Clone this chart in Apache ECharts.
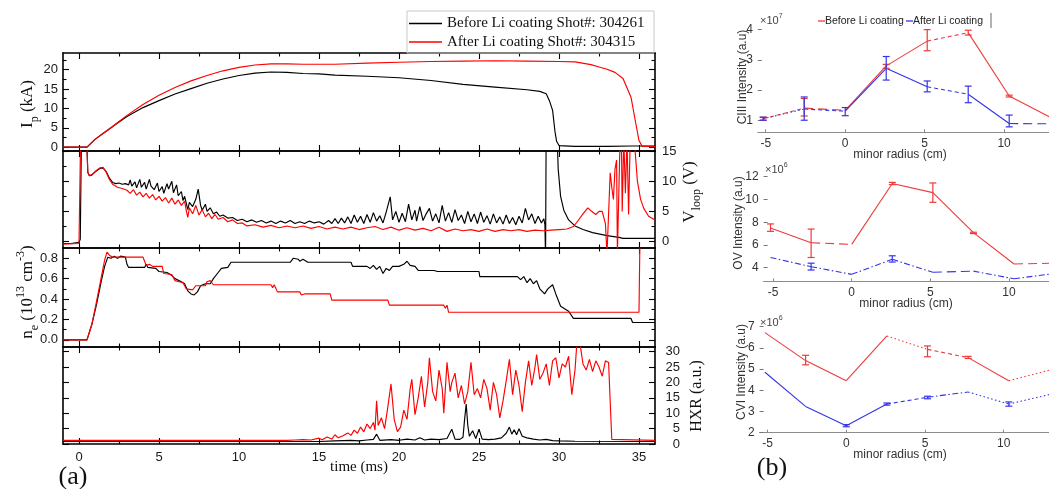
<!DOCTYPE html>
<html><head><meta charset="utf-8">
<script src="https://cdn.jsdelivr.net/npm/echarts@6/dist/echarts.min.js"></script>
<style>html,body{margin:0;padding:0;background:#fff}#c{width:1049px;height:489px}</style>
</head><body><div id="c"></div>
<script>
// ---------------- DATA ----------------
const timeTicks = [0,5,10,15,20,25,30,35];
const timeMinorTicks = [2.5,7.5,12.5,17.5,22.5,27.5,32.5];
const ipTicks = [0,5,10,15,20];
const ipMinorTicks = [2.5,7.5,12.5,17.5,22.5];
const vloopTicks = [0,5,10,15];
const vloopMinorTicks = [2.5,7.5,12.5];
const neTicks = [0,0.2,0.4,0.6,0.8];
const neMinorTicks = [0.1,0.3,0.5,0.7];
const hxrTicks = [0,5,10,15,20,25,30];
const hxrMinorTicks = [];
const radiusTicks = [-5,0,5,10];
const ciiiTicks = [1,2,3,4];
const ovTicks = [4,6,8,10,12];
const cviTicks = [2,3,4,5,6,7];

const legendBefore = 'Before Li coating Shot#: 304261';
const legendAfter = 'After Li coating Shot#: 304315';

// Plasma current Ip (kA) vs time (ms)
const ipBefore = [[-1,0],[0.5,0],[1,2.0],[1.5,3.5],[2,5.0],[2.5,6.5],[3,7.9],[4,10.2],[5,12.0],[6,13.7],[7,15.1],[8,16.5],[9,17.6],[10,18.5],[11,19.1],[12,19.4],[13,19.3],[14,19.0],[15,18.9],[16,18.6],[18,18.3],[20,17.9],[22,17.2],[24,16.2],[26,15.5],[28,14.8],[28.8,14.4],[29.2,13.8],[29.4,12],[29.6,9.5],[29.75,4],[29.85,1.5],[30,0.4],[31,0.2],[33,0.2],[34.5,0.3],[36,0.3]];
const ipAfter = [[-1,0],[0.5,0],[1,2.0],[1.5,3.5],[2,5.0],[2.5,6.6],[3,8.2],[4,11.0],[5,13.4],[6,15.4],[7,17.1],[8,18.5],[9,19.7],[10,20.6],[11,21.2],[12,21.5],[13,21.5],[14,21.4],[15,21.4],[16,21.4],[18,21.7],[20,21.9],[22,22.1],[24,22.2],[26,22.3],[28,22.2],[30,22.1],[31,22.0],[32,21.3],[32.5,20.7],[33,20.1],[33.5,19.3],[34,17.7],[34.5,12.9],[34.8,6.1],[35,1.7],[35.2,0.2],[36,0.2]];

// Loop voltage (V)
const vloopBefore = [[-1,-0.3],[-0.5,-0.3],[0,-0.1],[0.08,0.4],[0.15,17],[0.48,17],[0.55,11.5],[0.65,10.9],[0.8,11.0],[1.0,11.5],[1.3,12.1],[1.5,12.2],[1.7,11.6],[1.9,10.5],[2.1,9.8],[2.3,9.6],[2.5,9.7],[2.7,9.5],[2.9,9.6],[3.1,9.4],[3.2,10.2],[3.3,9.2],[3.5,9.9],[3.6,8.9],[3.8,10.3],[3.9,9.0],[4.1,9.8],[4.2,8.7],[4.4,10.3],[4.5,9.2],[4.7,8.6],[4.9,9.7],[5.0,8.3],[5.2,9.1],[5.3,8.0],[5.5,9.6],[5.6,8.7],[5.8,10.0],[5.9,8.1],[6.1,9.4],[6.2,7.6],[6.4,8.3],[6.5,6.8],[6.6,7.5],[6.8,5.3],[6.9,6.5],[7.1,5.8],[7.3,7.0],[7.45,8.7],[7.6,6.0],[7.7,5.2],[7.9,6.2],[8.0,5.0],[8.2,5.6],[8.4,4.6],[8.6,4.9],[8.8,4.2],[9.0,4.4],[9.3,3.9],[9.6,4.0],[9.9,3.5],[10.2,3.7],[10.5,3.3],[10.8,3.6],[11.1,3.2],[11.4,3.5],[11.7,3.1],[12.0,3.4],[12.3,3.0],[12.6,3.4],[12.9,3.1],[13.2,3.5],[13.5,3.0],[13.8,3.3],[14.1,3.0],[14.4,3.4],[14.7,3.1],[15.0,3.3],[15.3,2.9],[15.6,3.5],[15.8,3.0],[16.0,3.8],[16.2,3.0],[16.4,3.9],[16.6,3.1],[16.8,4.1],[17.0,3.0],[17.2,4.4],[17.4,3.2],[17.6,4.2],[17.8,3.0],[18.0,4.5],[18.2,3.2],[18.4,4.8],[18.6,3.4],[18.8,4.3],[19.0,3.1],[19.2,4.9],[19.45,7.4],[19.6,3.6],[19.8,5.0],[20.0,3.2],[20.2,4.7],[20.4,3.3],[20.6,6.2],[20.8,3.6],[21.0,5.2],[21.1,3.4],[21.3,5.8],[21.5,3.5],[21.7,4.6],[21.9,5.5],[22.1,3.4],[22.3,4.6],[22.5,3.1],[22.7,6.0],[22.9,3.4],[23.1,4.8],[23.3,3.2],[23.5,5.3],[23.7,3.5],[23.9,4.4],[24.1,3.0],[24.3,5.0],[24.5,3.3],[24.7,4.6],[24.9,3.0],[25.1,4.9],[25.3,3.2],[25.5,4.3],[25.7,2.9],[25.9,4.6],[26.1,3.1],[26.3,4.1],[26.5,2.9],[26.7,4.4],[26.9,3.0],[27.1,4.0],[27.3,2.8],[27.5,4.2],[27.7,3.1],[27.9,5.5],[28.1,3.6],[28.3,4.6],[28.5,3.0],[28.7,4.2],[28.9,3.1],[29.05,3.8],[29.12,2.8],[29.16,-3],[29.2,20],[29.85,20],[29.95,12],[30.1,7.5],[30.3,5.2],[30.6,3.6],[31.0,2.6],[31.5,2.0],[32.1,1.5],[33.0,1.0],[33.75,0.7],[34.0,0.55],[36,0.55]];
const vloopAfter = [[-1,-0.4],[0,-0.3],[0.05,0],[0.1,17],[0.48,17],[0.55,11.5],[0.65,10.9],[0.8,11.1],[1.0,11.6],[1.3,12.2],[1.5,12.3],[1.7,11.5],[1.9,10.3],[2.1,9.5],[2.4,9.0],[2.7,8.8],[3.0,8.5],[3.2,8.0],[3.4,8.6],[3.6,7.7],[3.8,8.2],[4.0,7.4],[4.2,8.0],[4.4,7.2],[4.6,7.8],[4.8,6.9],[5.0,7.5],[5.2,6.7],[5.4,7.3],[5.6,6.4],[5.8,7.2],[6.0,6.2],[6.2,6.9],[6.4,6.0],[6.6,6.7],[6.7,5.2],[6.8,4.0],[6.9,5.6],[7.1,4.6],[7.3,6.0],[7.5,4.4],[7.7,5.3],[7.9,4.1],[8.1,4.7],[8.3,3.8],[8.5,4.5],[8.7,3.7],[9.0,4.0],[9.3,3.3],[9.6,3.6],[9.9,3.0],[10.2,3.1],[10.5,2.6],[11,2.8],[11.5,2.4],[12,2.7],[12.5,2.3],[13,2.6],[13.5,2.3],[14,2.6],[14.5,2.2],[15,2.5],[15.5,2.1],[16,2.4],[16.5,2.1],[17,2.4],[17.5,2.0],[18,2.3],[18.5,2.5],[19,2.0],[19.5,2.4],[20,1.9],[20.5,2.3],[21,1.9],[21.5,2.2],[22,1.8],[22.5,2.4],[23,1.7],[23.5,2.1],[24,1.8],[24.5,2.0],[25,1.7],[25.5,2.1],[26,1.7],[26.5,2.0],[27,1.8],[27.5,2.0],[28,1.7],[28.5,1.9],[29,1.8],[29.5,1.9],[30,2.0],[30.5,2.1],[30.9,2.5],[31.2,3.5],[31.5,4.6],[31.8,5.6],[32.0,5.1],[32.3,4.5],[32.5,5.0],[32.7,5.0],[32.9,3.0],[33.0,-2],[33.1,-2],[33.2,11.4],[33.3,9],[33.4,7],[33.5,12],[33.6,13.5],[33.65,-2],[33.7,-2],[33.8,15],[33.9,17],[33.95,5],[34.05,17],[34.15,8],[34.25,17],[34.35,4.5],[34.45,17],[34.7,17],[34.9,10],[35.1,7],[35.3,5.5],[35.6,4.2],[36,3.6]];

// Electron density ne (1e13 cm^-3)
const neBefore = [[-1,0],[0.5,0],[0.8,0.15],[1.1,0.35],[1.4,0.58],[1.6,0.72],[1.8,0.81],[2.0,0.8],[2.2,0.82],[2.4,0.8],[2.6,0.82],[2.9,0.81],[3.0,0.74],[3.1,0.71],[4.1,0.71],[4.2,0.74],[4.3,0.71],[4.8,0.7],[5.0,0.67],[5.5,0.66],[5.8,0.63],[6.0,0.6],[6.4,0.57],[6.6,0.55],[6.8,0.48],[7.0,0.45],[7.2,0.44],[7.4,0.47],[7.6,0.53],[7.9,0.55],[8.2,0.55],[8.4,0.6],[8.7,0.66],[8.9,0.7],[9.3,0.71],[9.5,0.76],[13.2,0.76],[13.4,0.8],[13.7,0.79],[13.8,0.77],[14.0,0.79],[14.3,0.76],[17.0,0.76],[17.1,0.72],[18.0,0.72],[18.2,0.7],[18.4,0.73],[18.6,0.69],[18.8,0.72],[19.0,0.65],[19.2,0.7],[19.4,0.68],[19.6,0.72],[20.0,0.72],[20.3,0.74],[20.5,0.77],[20.7,0.73],[21.0,0.72],[21.2,0.68],[22.2,0.68],[22.4,0.67],[25.0,0.67],[25.05,0.62],[27.4,0.62],[27.6,0.59],[27.8,0.62],[28.0,0.56],[28.2,0.6],[28.4,0.55],[28.6,0.58],[28.8,0.5],[29.1,0.45],[29.3,0.5],[29.6,0.54],[29.8,0.45],[30.1,0.33],[30.4,0.3],[30.6,0.28],[30.9,0.21],[34.5,0.21],[34.6,0.17],[36,0.17]];
const neAfter = [[-1,0],[0.5,0],[0.8,0.15],[1.1,0.38],[1.4,0.62],[1.6,0.78],[1.75,0.86],[1.9,0.83],[2.1,0.81],[4.0,0.81],[4.1,0.77],[4.2,0.73],[4.4,0.74],[4.6,0.72],[5.2,0.72],[5.3,0.65],[5.8,0.64],[6.0,0.58],[6.5,0.56],[6.7,0.5],[7.1,0.49],[7.3,0.53],[7.9,0.53],[8.0,0.57],[8.2,0.58],[8.4,0.54],[12.0,0.54],[12.1,0.51],[12.2,0.54],[12.4,0.47],[13.8,0.47],[13.9,0.44],[14.0,0.43],[14.1,0.45],[15.7,0.45],[15.8,0.39],[19.3,0.39],[19.4,0.34],[22.8,0.34],[22.9,0.31],[23.0,0.34],[23.1,0.27],[35.0,0.27],[35.1,1.5],[36,1.5]];

// Hard X-ray (a.u.)
const hxrBefore = [[-1,0.8],[15,0.8],[16,1.0],[17,1.2],[17.5,1.0],[18,1.3],[18.4,1.5],[18.6,3.2],[18.8,1.2],[19.5,1.4],[20,1.2],[20.5,1.6],[21,1.3],[21.3,2.0],[21.6,1.3],[22,1.6],[22.5,1.4],[23,1.8],[23.3,4.8],[23.5,1.6],[23.8,1.5],[24.0,2.2],[24.1,8],[24.2,13],[24.3,6],[24.4,2.5],[24.6,4.3],[24.8,1.8],[25.0,4.8],[25.2,1.6],[25.6,1.4],[26.0,1.6],[26.4,2.0],[26.7,3.5],[26.9,5.5],[27.05,3.2],[27.2,4.6],[27.35,3.0],[27.5,5.0],[27.7,2.5],[28,2.0],[28.4,1.6],[28.8,1.3],[29.2,1.5],[29.6,1.1],[30,1.0],[31,0.9],[36,0.8]];
const hxrAfter = [[-1,1.2],[13,1.2],[13.5,1.3],[14,1.4],[14.5,1.3],[15,1.9],[15.2,1.4],[15.5,2.3],[15.8,1.6],[16.0,3.0],[16.2,2.0],[16.5,2.7],[16.8,3.6],[17.0,2.8],[17.2,4.5],[17.4,3.5],[17.6,5.5],[17.8,4.0],[18.0,6.5],[18.2,5.0],[18.4,7.0],[18.5,4.5],[18.6,14],[18.7,6],[18.9,8.5],[19.1,5.0],[19.3,12],[19.5,19.5],[19.7,8],[19.9,4.0],[20.1,5.5],[20.3,11],[20.5,8],[20.7,18],[20.8,21],[21.0,9.5],[21.2,15],[21.4,22],[21.6,12],[21.8,20],[21.9,28],[22.1,17],[22.3,14],[22.5,24],[22.7,18],[22.8,10],[23.0,26.5],[23.2,17],[23.3,20],[23.5,23],[23.7,15],[23.9,19],[24.1,13],[24.3,17],[24.5,26.5],[24.7,16],[24.9,18],[25.1,15],[25.3,21],[25.5,18],[25.7,11],[25.9,20],[26.1,16],[26.3,8.5],[26.5,14],[26.7,20.5],[26.9,27.5],[27.1,16],[27.3,24],[27.5,19],[27.7,10.5],[27.9,20],[28.1,27],[28.3,19],[28.5,25],[28.6,29],[28.8,21],[29.0,23],[29.2,26],[29.4,19],[29.6,27],[29.8,28],[30.0,21.5],[30.2,26],[30.4,25],[30.6,28.5],[30.8,16],[31.0,24],[31.1,31.5],[31.3,33],[31.5,26],[31.7,24],[31.9,27.5],[32.1,23.5],[32.3,27],[32.5,25],[32.7,22],[32.9,27],[33.1,26.5],[33.15,20],[33.3,1.5],[36,1.2]];

// (b) radial profiles
const radii = [-5.16,-2.58,0,2.58,5.16,7.74,10.32,12.9];
const ciiiBefore = [1.05,1.4,1.33,2.8,3.62,3.9,1.8,1.1];
const ciiiAfter = [1.05,1.37,1.3,2.72,2.11,1.86,0.89,0.88];
const ciiiBeforeErr = [[-5.16,1.0,1.1],[-2.58,1.14,1.72],[2.58,2.72,2.85],[5.16,3.3,4.0],[7.74,3.82,3.98],[10.32,1.77,1.83]];
const ciiiAfterErr = [[-5.16,1.0,1.1],[-2.58,1.0,1.77],[0,1.15,1.42],[2.58,2.33,3.11],[5.16,1.94,2.3],[7.74,1.58,2.13],[10.32,0.78,1.17]];
const ovBefore = [7.5,6.2,6.05,11.4,10.6,7.08,4.33,4.4];
const ovAfter = [4.9,4.09,3.42,4.74,3.6,3.7,3.03,3.5];
const ovBeforeErr = [[-5.16,7.2,7.85],[-2.58,4.9,7.4],[2.58,11.3,11.5],[5.16,9.75,11.45],[7.74,7.0,7.12]];
const ovAfterErr = [[-2.58,3.8,4.4],[2.58,4.5,5.05]];
const cviBefore = [6.72,5.4,4.45,6.56,5.93,5.54,4.45,4.95];
const cviAfter = [4.85,3.24,2.33,3.35,3.67,3.92,3.35,3.8];
const cviBeforeErr = [[-2.58,5.2,5.65],[5.16,5.58,6.09],[7.74,5.5,5.6]];
const cviAfterErr = [[0,2.28,2.38],[2.58,3.3,3.4],[5.16,3.6,3.72],[10.32,3.25,3.45]];

// segment line styles (between consecutive radii)
const ciiiBeforeSeg = ['dash','long','solid','solid','dash','solid','solid'];
const ciiiAfterSeg = ['dot','dash','solid','solid','dash','solid','long'];
const ovBeforeSeg = ['solid','long','solid','solid','solid','solid','long'];
const ovAfterSeg = ['dashdot','dashdot','dashdot','dashdot','long','dashdot','dashdot'];
const cviBeforeSeg = ['solid','solid','solid','dot','dash','solid','dot'];
const cviAfterSeg = ['solid','solid','solid','dash','dashdot','dot','dot'];

// ---------------- CHART ----------------
const RED='#ff0000', BLK='#000000', BRED='#ee3a3a', BBLUE='#3434e6';
const SERIF='"Liberation Serif","Times New Roman",serif';
const SANS='"Liberation Sans",Arial,sans-serif';
const dashMap = {solid:'solid', dot:[1.5,2.5], dash:[4,3], long:[9,5], dashdot:[6,2.5,1.5,2.5]};

const grids=[], xAxes=[], yAxes=[], series=[];

const leftPanels = [
  {top:53, h:98, min:-1, max:24.3, major:ipTicks, minor:ipMinorTicks, lab:'left'},
  {top:151, h:97, min:-1.05, max:15, major:vloopTicks, minor:vloopMinorTicks, lab:'right'},
  {top:248, h:99, min:-0.07, max:0.9, major:neTicks, minor:neMinorTicks, lab:'left', fmt:v=>Number(v).toFixed(1)},
  {top:347, h:97, min:0, max:31.5, major:hxrTicks, minor:hxrMinorTicks, lab:'right', alignRight:true}
];

leftPanels.forEach((p,g)=>{
  grids.push({left:63, top:p.top, width:592, height:p.h, outerBoundsMode:'none', containLabel:false});
  const mkX=(pos, vals, len, line, lab)=>({
    type:'value', gridIndex:g, position:pos, min:-1, max:36,
    axisLine:{show:line, onZero:false, lineStyle:{color:'#000', width:1.6}},
    axisTick:{show:vals.length>0, inside:true, length:len, customValues:vals, lineStyle:{color:'#000', width:1.1}},
    axisLabel:{show:lab, customValues:vals, margin:7, fontSize:13, fontFamily:SANS, color:'#1a1a1a'},
    splitLine:{show:false}, splitArea:{show:false}
  });
  xAxes.push(mkX('bottom', timeTicks, 6, true, g===3), mkX('top', timeTicks, 6, true, false),
             mkX('bottom', timeMinorTicks, 3.5, false, false), mkX('top', timeMinorTicks, 3.5, false, false));
  const mkY=(pos, vals, len, line, lab)=>{
    const al = {show:lab, customValues:vals, fontSize:13, fontFamily:SANS, color:'#1a1a1a', margin: pos==='left'?5:7};
    if (p.fmt) al.formatter = p.fmt;
    if (pos==='right' && p.alignRight) { al.align='right'; al.margin=25; }
    return {
      type:'value', gridIndex:g, position:pos, min:p.min, max:p.max,
      axisLine:{show:line, onZero:false, lineStyle:{color:'#000', width:1.6}},
      axisTick:{show:vals.length>0, inside:true, length:len, customValues:vals, lineStyle:{color:'#000', width:1.1}},
      axisLabel:al, splitLine:{show:false}
    };
  };
  yAxes.push(mkY('left', p.major, 6, true, p.lab==='left'), mkY('left', p.minor, 3.5, false, false),
             mkY('right', p.major, 6, true, p.lab==='right'), mkY('right', p.minor, 3.5, false, false));
});

const leftTraces = [[0,ipBefore,BLK],[0,ipAfter,RED],[1,vloopBefore,BLK],[1,vloopAfter,RED],
                    [2,neBefore,BLK],[2,neAfter,RED],[3,hxrBefore,BLK],[3,hxrAfter,RED]];
leftTraces.forEach(([g,d,c])=>series.push({
  type:'line', xAxisIndex:4*g, yAxisIndex:4*g, data:d, showSymbol:false, symbol:'none',
  lineStyle:{color:c, width:1.15}, silent:true, clip:true, z:c===RED?3:2
}));

const rightPanels = [
  {left:757.8, top:23.6, w:294, h:108.7, xmin:-5.5, xmax:13, ymin:0.6, ymax:4.2, ticks:ciiiTicks,
   before:ciiiBefore, after:ciiiAfter, bErr:ciiiBeforeErr, aErr:ciiiAfterErr, bSeg:ciiiBeforeSeg, aSeg:ciiiAfterSeg},
  {left:763.6, top:171, w:292.6, h:110.4, xmin:-5.6, xmax:13, ymin:2.8, ymax:12.5, ticks:ovTicks,
   before:ovBefore, after:ovAfter, bErr:ovBeforeErr, aErr:ovAfterErr, bSeg:ovBeforeSeg, aSeg:ovAfterSeg},
  {left:759.6, top:320.3, w:291.4, h:112.4, xmin:-5.5, xmax:13, ymin:2, ymax:7.3, ticks:cviTicks,
   before:cviBefore, after:cviAfter, bErr:cviBeforeErr, aErr:cviAfterErr, bSeg:cviBeforeSeg, aSeg:cviAfterSeg}
];

function errRender(color){
  return function(params, api){
    const x=api.value(0), lo=api.value(1), hi=api.value(2);
    const p1=api.coord([x,lo]), p2=api.coord([x,hi]); const w=3.5;
    const st={stroke:color, lineWidth:1.2};
    return {type:'group', children:[
      {type:'line', shape:{x1:p1[0],y1:p1[1],x2:p2[0],y2:p2[1]}, style:st},
      {type:'line', shape:{x1:p1[0]-w,y1:p1[1],x2:p1[0]+w,y2:p1[1]}, style:st},
      {type:'line', shape:{x1:p2[0]-w,y1:p2[1],x2:p2[0]+w,y2:p2[1]}, style:st}
    ]};
  };
}

rightPanels.forEach((p,i)=>{
  const gi = grids.length;
  grids.push({left:p.left, top:p.top, width:p.w, height:p.h, outerBoundsMode:'none', containLabel:false});
  const xi = xAxes.length, yi = yAxes.length;
  xAxes.push({type:'value', gridIndex:gi, position:'bottom', min:p.xmin, max:p.xmax,
    axisLine:{show:true, onZero:false, lineStyle:{color:'#8c8c8c', width:1.2}},
    axisTick:{show:true, inside:true, length:3, customValues:radiusTicks, lineStyle:{color:'#888'}},
    axisLabel:{customValues:radiusTicks, fontSize:12, fontFamily:SANS, color:'#333', margin:5},
    splitLine:{show:false}});
  yAxes.push({type:'value', gridIndex:gi, position:'left', min:p.ymin, max:p.ymax,
    axisLine:{show:false, onZero:false},
    axisTick:{show:true, inside:true, length:4, customValues:p.ticks, lineStyle:{color:'#777'}},
    axisLabel:{customValues:p.ticks, fontSize:12, fontFamily:SANS, color:'#333', margin:5},
    splitLine:{show:false}});
  [[p.before,p.bSeg,BRED],[p.after,p.aSeg,BBLUE]].forEach(([vals,seg,c])=>{
    for (let k=0;k<vals.length-1;k++){
      series.push({type:'line', xAxisIndex:xi, yAxisIndex:yi, showSymbol:false, symbol:'none', silent:true,
        data:[[radii[k],vals[k]],[radii[k+1],vals[k+1]]],
        lineStyle:{color:c, width:1.1, type:dashMap[seg[k]]}});
    }
  });
  [[p.bErr,BRED],[p.aErr,BBLUE]].forEach(([d,c])=>{
    series.push({type:'custom', xAxisIndex:xi, yAxisIndex:yi, data:d, renderItem:errRender(c), silent:true, z:4});
  });
});

// ------------- text / annotations -------------
function txt(x,y,text,font,size,opts){
  opts = opts||{};
  return {type:'text', x:x, y:y, rotation:opts.rot||0, z:10, silent:true,
    style:Object.assign({text:text, x:0, y:0, fill:opts.color||'#111', font:size+'px '+font,
      align:opts.align||'center', verticalAlign:opts.va||'middle'}, opts.rich?{rich:opts.rich}:{})};
}
function richSS(size, font, color){
  const lh = Math.round(size*1.5);
  const sub = Math.round(size*0.68);
  return {
    a:{fontSize:size, fontFamily:font, lineHeight:lh, verticalAlign:'middle', fill:color},
    s:{fontSize:sub, fontFamily:font, lineHeight:sub+1, verticalAlign:'bottom', fill:color},
    u:{fontSize:sub, fontFamily:font, lineHeight:sub+1, verticalAlign:'top', fill:color}
  };
}
const R90 = Math.PI/2;
const graphics = [
  // left legend
  {type:'rect', shape:{x:407,y:11,width:247,height:42}, style:{fill:'none', stroke:'#c9c9c9', lineWidth:1}, z:1, silent:true},
  {type:'line', shape:{x1:409,y1:23.5,x2:442,y2:23.5}, style:{stroke:BLK, lineWidth:1.3}, silent:true},
  {type:'line', shape:{x1:409,y1:42,x2:442,y2:42}, style:{stroke:RED, lineWidth:1.3}, silent:true},
  txt(447,23.5,legendBefore,SERIF,15,{align:'left'}),
  txt(447,42,legendAfter,SERIF,15,{align:'left'}),
  // left axis names
  txt(28,104,'{a|I}{s|p}{a| (kA)}',SERIF,17,{rot:R90, rich:richSS(17,SERIF,'#111')}),
  txt(690,192,'{a|V}{s|loop}{a| (V)}',SERIF,17,{rot:R90, rich:richSS(17,SERIF,'#111')}),
  txt(28,292,'{a|n}{s|e}{a| (10}{u|13}{a| cm}{u|-3}{a|)}',SERIF,17,{rot:R90, rich:richSS(17,SERIF,'#111')}),
  txt(697,396,'HXR (a.u.)',SERIF,16,{rot:R90}),
  txt(359,467,'time (ms)',SERIF,15),
  txt(73,477,'(a)',SERIF,26),
  // right panel texts
  txt(760,21,'{a|×10}{u|7}',SANS,11,{align:'left', rich:richSS(11,SANS,'#444')}),
  txt(765,170,'{a|×10}{u|6}',SANS,11,{align:'left', rich:richSS(11,SANS,'#444')}),
  txt(760,323,'{a|×10}{u|6}',SANS,11,{align:'left', rich:richSS(11,SANS,'#444')}),
  txt(743,77,'CIII Intensity (a.u)',SANS,12,{rot:R90, color:'#333'}),
  txt(739,223,'OV Intensity (a.u)',SANS,12,{rot:R90, color:'#333'}),
  txt(742,372,'CVI Intensity (a.u)',SANS,12,{rot:R90, color:'#333'}),
  txt(900,155,'minor radius (cm)',SANS,12,{color:'#333'}),
  txt(906,304,'minor radius (cm)',SANS,12,{color:'#333'}),
  txt(900,455,'minor radius (cm)',SANS,12,{color:'#333'}),
  txt(772,468,'(b)',SERIF,26),
  // right legend
  {type:'line', shape:{x1:818,y1:21,x2:825,y2:21}, style:{stroke:BRED, lineWidth:1.3}, silent:true},
  txt(825,21,'Before Li coating',SANS,10.5,{align:'left', color:'#222'}),
  {type:'line', shape:{x1:906,y1:21,x2:913,y2:21}, style:{stroke:BBLUE, lineWidth:1.3}, silent:true},
  txt(913,21,'After Li coating',SANS,10.5,{align:'left', color:'#222'}),
  {type:'line', shape:{x1:991,y1:13,x2:991,y2:28}, style:{stroke:'#666', lineWidth:1}, silent:true}
];

const chart = echarts.init(document.getElementById('c'), null, {renderer:'canvas'});
chart.setOption({
  backgroundColor:'#ffffff', animation:false,
  grid:grids, xAxis:xAxes, yAxis:yAxes, series:series, graphic:graphics,
  tooltip:{show:false}
});
</script></body></html>
